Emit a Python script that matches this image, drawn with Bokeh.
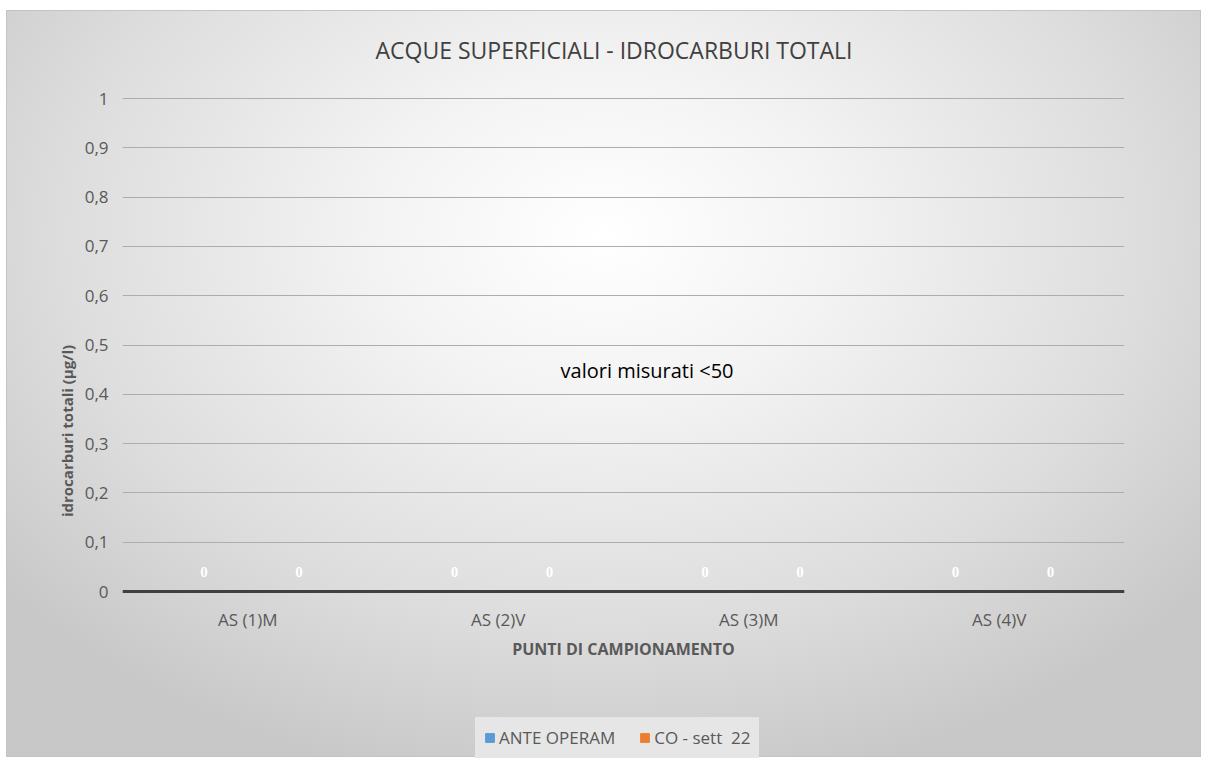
from bokeh.plotting import figure
from bokeh.models import (ColumnDataSource, FactorRange, Range1d, FixedTicker, CustomJSTickFormatter,
                          LabelSet, Label, Legend, LegendItem)
from bokeh.transform import dodge
from bokeh.embed import file_html
from bokeh.resources import INLINE

categories = ["AS (1)M", "AS (2)V", "AS (3)M", "AS (4)V"]
ante_operam = [0, 0, 0, 0]
co_sett22 = [0, 0, 0, 0]
series_names = ["ANTE OPERAM", "CO - sett  22"]
y_ticks = [0, 0.1, 0.2, 0.3, 0.4, 0.5, 0.6, 0.7, 0.8, 0.9, 1]
note_text = "valori misurati <50"

FONT = "Open Sans"
src = ColumnDataSource(dict(cat=categories, a=ante_operam, c=co_sett22,
                            a_txt=[str(v) for v in ante_operam], c_txt=[str(v) for v in co_sett22]))

PX_PER_UNIT = 493.0
y_end = 1 + 2 / PX_PER_UNIT
y_start = -(765 - 591) / PX_PER_UNIT

p = figure(x_range=FactorRange(*categories, range_padding=0), y_range=Range1d(y_start, y_end),
           width=1205, height=765, output_backend="svg", toolbar_location=None,
           min_border_left=122, min_border_right=81, min_border_top=96, min_border_bottom=0)

p.styles = {
    "background": ("radial-gradient(ellipse 65% 75% at 50% 30%, #ffffff 0%, #f3f3f3 30%, #dddddd 70%, #c8c8c8 100%) "
                   "7px 11px / 1193px 745px no-repeat, "
                   "linear-gradient(#c4c4c4, #c4c4c4) 6px 10px / 1195px 747px no-repeat, #ffffff"),
}
p.background_fill_alpha = 0
p.border_fill_alpha = 0
p.outline_line_color = None

r1 = p.vbar(x=dodge("cat", -0.175, range=p.x_range), top="a", width=0.3, source=src, color="#5b9bd5")
r2 = p.vbar(x=dodge("cat", 0.205, range=p.x_range), top="c", width=0.3, source=src, color="#ed7d31")

for col, off in (("a_txt", -0.175), ("c_txt", 0.205)):
    ls = LabelSet(x=dodge("cat", off, range=p.x_range), y=0, text=col, source=src,
                  text_color="white", text_font=FONT, text_font_style="bold", text_font_size="15px",
                  text_align="center", text_baseline="bottom", y_offset=15)
    p.add_layout(ls)

p.add_layout(Label(x=2.094, y=0.448, text=note_text, text_font=FONT, text_font_size="20px",
                   text_color="#000000", text_align="center", text_baseline="middle"))

# title
p.title.text = "ACQUE SUPERFICIALI - IDROCARBURI TOTALI"
p.title.align = "left"
p.title.offset = 253
p.title.text_font = FONT
p.title.text_font_size = "23px"
p.title.text_font_style = "normal"
p.title.text_color = "#404040"
p.title.standoff = 62

# grid
p.xgrid.grid_line_color = None
p.ygrid.ticker = FixedTicker(ticks=y_ticks)
p.ygrid.grid_line_color = "#adadad"
p.ygrid.grid_line_width = 1

# y axis
p.yaxis.ticker = FixedTicker(ticks=y_ticks)
p.yaxis.formatter = CustomJSTickFormatter(code="return (Math.round(tick*10)/10).toString().replace('.', ',');")
p.yaxis.axis_line_color = None
p.yaxis.major_tick_line_color = None
p.yaxis.minor_tick_line_color = None
p.yaxis.major_tick_out = 0
p.yaxis.major_tick_in = 0
p.yaxis.major_label_standoff = 14
p.yaxis.major_label_text_font = FONT
p.yaxis.major_label_text_font_size = "17px"
p.yaxis.major_label_text_color = "#595959"
p.yaxis.axis_label = "idrocarburi totali (µg/l)"
p.yaxis.axis_label_text_font = FONT
p.yaxis.axis_label_text_font_size = "15px"
p.yaxis.axis_label_text_font_style = "bold"
p.yaxis.axis_label_text_color = "#595959"
p.yaxis.axis_label_standoff = 5

# x axis drawn at value 0
p.xaxis.fixed_location = 0
p.xaxis.axis_line_color = "#404040"
p.xaxis.axis_line_width = 3
p.xaxis.major_tick_line_color = None
p.xaxis.minor_tick_line_color = None
p.xaxis.major_tick_out = 0
p.xaxis.major_tick_in = 0
p.xaxis.major_label_standoff = 16
p.xaxis.major_label_text_font = FONT
p.xaxis.major_label_text_font_size = "17px"
p.xaxis.major_label_text_color = "#595959"
p.xaxis.axis_label = "PUNTI DI CAMPIONAMENTO"
p.xaxis.axis_label_text_font = FONT
p.xaxis.axis_label_text_font_size = "16px"
p.xaxis.axis_label_text_font_style = "bold"
p.xaxis.axis_label_text_color = "#595959"
p.xaxis.axis_label_standoff = 4

items = [LegendItem(label=series_names[0], renderers=[r1]),
         LegendItem(label=series_names[1], renderers=[r2])]
legend = Legend(items=items, orientation="horizontal", location=(353, 7), padding=8, margin=0,
                background_fill_color="#e6e6e6", background_fill_alpha=1,
                border_line_color="#e6e6e6", border_line_alpha=1, border_line_width=1,
                label_text_font=FONT, label_text_font_size="17px", label_text_color="#595959",
                glyph_width=11, glyph_height=11, label_standoff=4, spacing=24)
p.add_layout(legend, "center")

open("out.html", "w").write(file_html(p, INLINE))
